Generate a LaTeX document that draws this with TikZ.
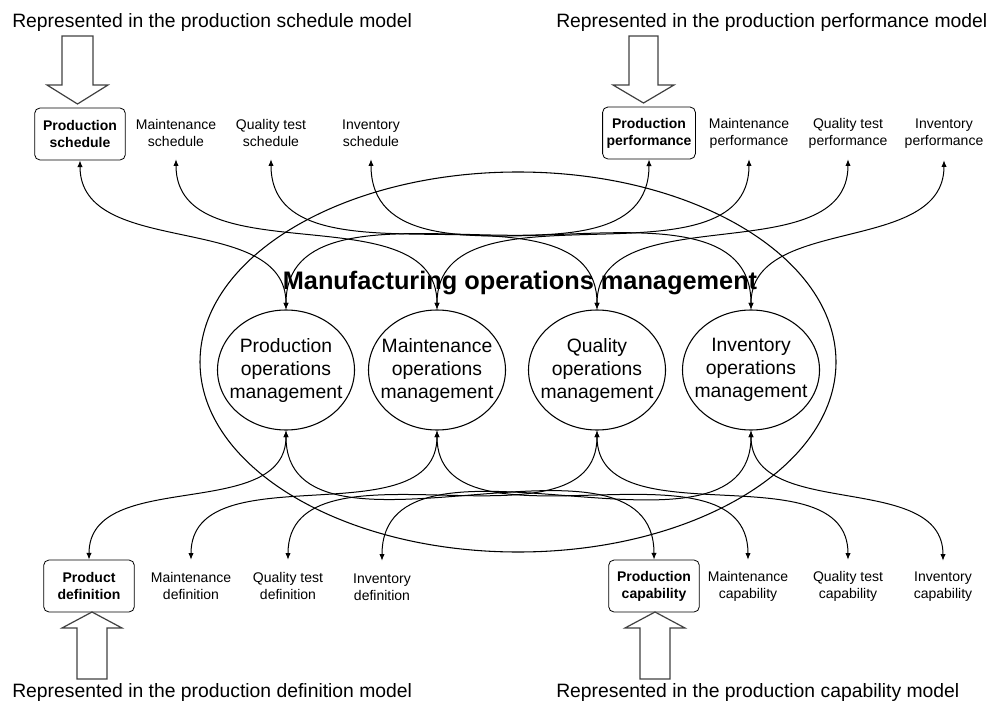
\documentclass[tikz,border=0pt]{standalone}
\usepackage{fontspec}
\setmainfont{Liberation Sans}
\usepackage{tikz}
\usetikzlibrary{shapes.geometric,arrows.meta}

\tikzset{
  lbl/.style={align=center, font=\fontsize{10.5}{12.75}\selectfont, minimum height=39pt, minimum width=68pt, inner xsep=3pt, inner ysep=0pt},
  lblbox/.style={lbl, draw, rounded corners=4pt, line width=0.6pt, font=\fontsize{10.5}{12.75}\selectfont\bfseries},
  opmgmt/.style={ellipse, draw, line width=0.8pt, minimum width=102.75pt, minimum height=90pt, inner xsep=-6.5pt, inner ysep=0pt, align=center, font=\fontsize{14.5}{17.25}\selectfont},
  link/.style={{Latex[length=5pt,width=4pt]}-{Latex[length=5pt,width=4pt]}, line width=0.75pt},
  hollow/.style={line width=0.9pt, draw=black!75, line join=miter},
  modelnote/.style={anchor=base west, inner sep=0pt, font=\fontsize{14.5}{17}\selectfont}
}

\begin{document}
\begin{tikzpicture}[x=0.75pt,y=0.75pt,yscale=-1,xscale=1]
        \useasboundingbox (0,0) rectangle (998,702);

        %Shape: Ellipse [id:mom]
        \node [ellipse, draw, line width=0.8pt, minimum width=477pt, minimum height=285pt, inner sep=0pt] (mom) at (518,362) {};
        % Text Node
        \node [inner sep=0pt, font=\fontsize{19}{22}\selectfont\bfseries] (title) at (520,283) {Manufacturing operations management};

        %Shape: Ellipses for the four activities
        \node [opmgmt] (prodom) at (286,370) {Production\\operations\\management};
        \node [opmgmt] (maintom) at (437,370) {Maintenance\\operations\\management};
        \node [opmgmt] (qualom) at (597,370) {Quality\\operations\\management};
        \node [opmgmt] (invom) at (751,370) {Inventory\\operations\\management};

        % Text Node - top row
        \node [lblbox] (psched) at (80,134) {Production\\schedule};
        \node [lbl] (msched) at (176,133) {Maintenance\\schedule};
        \node [lbl] (qsched) at (271,133) {Quality test\\schedule};
        \node [lbl] (isched) at (371,133) {Inventory\\schedule};
        \node [lblbox] (pperf) at (649,133) {Production\\performance};
        \node [lbl] (mperf) at (749,133) {Maintenance\\performance};
        \node [lbl] (qperf) at (848,133) {Quality test\\performance};
        \node [lbl] (iperf) at (944,134) {Inventory\\performance};

        % Text Node - bottom row
        \node [lblbox] (pdef) at (89,586) {Product\\definition};
        \node [lbl] (mdef) at (191,586) {Maintenance\\definition};
        \node [lbl] (qdef) at (288,586) {Quality test\\definition};
        \node [lbl] (idef) at (382,587) {Inventory\\definition};
        \node [lblbox] (pcap) at (654,586) {Production\\capability};
        \node [lbl] (mcap) at (748,586) {Maintenance\\capability};
        \node [lbl] (qcap) at (848,586) {Quality test\\capability};
        \node [lbl] (icap) at (943,587) {Inventory\\capability};

        % Text Node - model notes
        \node [modelnote] (schedmodel) at (12,28) {Represented in the production schedule model};
        \node [modelnote] (perfmodel) at (556,28) {Represented in the production performance model};
        \node [modelnote] (defmodel) at (12,697) {Represented in the production definition model};
        \node [modelnote] (capmodel) at (556,697) {Represented in the production capability model};

        %Shape: Block arrows
        \draw [hollow] (62,36) -- (93,36) -- (93,85) -- (108,85) -- (77.5,104) -- (47,85) -- (62,85) -- cycle ;
        \draw [hollow] (629,36) -- (658,36) -- (658,85) -- (674,85) -- (643.5,103) -- (613,85) -- (629,85) -- cycle ;
        \draw [hollow] (77,679) -- (107,679) -- (107,628) -- (122,628) -- (92,612) -- (62,628) -- (77,628) -- cycle ;
        \draw [hollow] (640,679) -- (670,679) -- (670,628) -- (685,628) -- (655,612) -- (625,628) -- (640,628) -- cycle ;

        %Curves: schedules
        \draw [link] (psched.south) to[out=90,in=-90] (prodom.north) ;
        \draw [link] (msched.south) to[out=90,in=-90] (maintom.north) ;
        \draw [link] (qsched.south) to[out=90,in=-90] (qualom.north) ;
        \draw [link] (isched.south) to[out=90,in=-90] (invom.north) ;
        %Curves: performance
        \draw [link] (prodom.north) to[out=-90,in=90] (pperf.south) ;
        \draw [link] (maintom.north) to[out=-90,in=90] (mperf.south) ;
        \draw [link] (qualom.north) to[out=-90,in=90] (qperf.south) ;
        \draw [link] (invom.north) to[out=-90,in=90] (iperf.south) ;
        %Curves: definitions
        \draw [link] (prodom.south) to[out=90,in=-90] (pdef.north) ;
        \draw [link] (maintom.south) to[out=90,in=-90] (mdef.north) ;
        \draw [link] (qualom.south) to[out=90,in=-90] (qdef.north) ;
        \draw [link] (invom.south) to[out=90,in=-90] (idef.north) ;
        %Curves: capabilities
        \draw [link] (prodom.south) to[out=90,in=-90] (pcap.north) ;
        \draw [link] (maintom.south) to[out=90,in=-90] (mcap.north) ;
        \draw [link] (qualom.south) to[out=90,in=-90] (qcap.north) ;
        \draw [link] (invom.south) to[out=90,in=-90] (icap.north) ;

\end{tikzpicture}
\end{document}
